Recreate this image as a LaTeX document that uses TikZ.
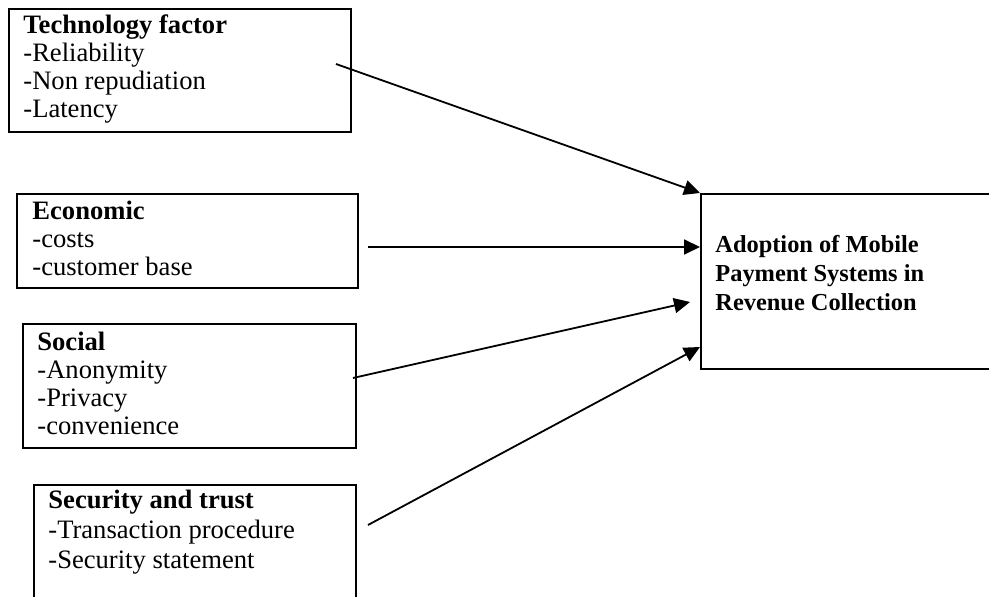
\documentclass[tikz,border=0pt]{standalone}
\usepackage{fontspec}
\setmainfont{Liberation Serif}
\usetikzlibrary{arrows.meta,positioning}
\tikzset{
  factor/.style={
    draw=black, line width=1pt, inner sep=0pt, anchor=north west
  },
  factortext/.style={
    inner sep=0pt, align=left, font=\fontsize{13.3}{14}\selectfont
  },
  link/.style={-{Triangle[length=8pt,width=7.5pt]}, line width=0.9pt, draw=black}
}

\begin{document}
\begin{tikzpicture}[x=0.5pt,y=-0.5pt]
    \clip (0,0) rectangle (989,597);
    \node[factor,minimum width=171pt,minimum height=61.5pt] (tech) at (8,8) {};
    \node[factor,minimum width=170.5pt,minimum height=47pt] (econ) at (16,193) {};
    \node[factor,minimum width=166.5pt,minimum height=62pt] (social) at (22,323) {};
    \node[factor,minimum width=161pt,minimum height=62pt] (secure) at (33,484) {};
    \node[factor,minimum width=150pt,minimum height=87.5pt] (adopt) at (700,193) {};
    \node[factortext,below right=2.7pt and 7.5pt of tech.north west] (techtext)
      {\strut\textbf{Technology factor}\\-Reliability\\-Non repudiation\\-Latency};
    \node[factortext,below right=3.2pt and 8pt of econ.north west] (econtext)
      {\strut\textbf{Economic}\\-costs\\-customer base};
    \node[factortext,below right=3.7pt and 7.5pt of social.north west] (socialtext)
      {\strut\textbf{Social}\\-Anonymity\\-Privacy\\-convenience};
    \node[factortext,font=\fontsize{13.3}{15}\selectfont,
      below right=1.5pt and 7.5pt of secure.north west] (securetext)
      {\strut\textbf{Security and trust}\\-Transaction procedure\\-Security statement};
    \node[factortext,font=\fontsize{12.2}{14.5}\selectfont\bfseries,
      below right=19.3pt and 7.5pt of adopt.north west] (adopttext)
      {\strut Adoption of Mobile\\Payment Systems in\\Revenue Collection};
    % free ends of the links
    \coordinate (techout) at (336,64);
    \coordinate (econout) at (368,247);
    \coordinate (socialout) at (353,378);
    \coordinate (secureout) at (368,525);
    \draw[link] (techout) -- (adopt.north west);
    \draw[link] (econout) -- ([yshift=-27pt]adopt.north west);
    \draw[link] (socialout) -- ([xshift=-5pt,yshift=-54.5pt]adopt.north west);
    \draw[link] (secureout) -- ([yshift=-77pt]adopt.north west);
\end{tikzpicture}
\end{document}
